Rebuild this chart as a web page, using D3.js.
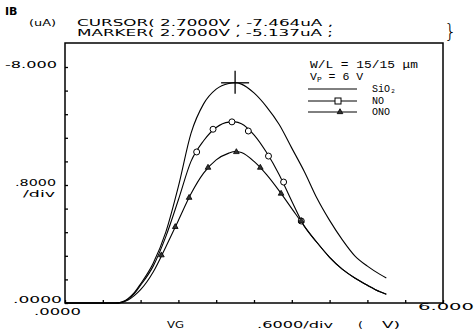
<!DOCTYPE html>
<html lang="en">
<head>
    <meta charset="UTF-8">
    <title>IB vs VG</title>
    <script src="https://d3js.org/d3.v7.min.js"></script>
    <style>
        body {
            margin: 0;
            background: #fff;
        }
        .plot-text {
            font-family: 'DejaVu Sans', sans-serif;
            font-size: 9.5px;
            fill: #000;
        }
        .legend-text {
            font-family: 'Liberation Mono', monospace;
            font-size: 11.5px;
            fill: #000;
        }
        .legend-name {
            font-family: 'Liberation Mono', monospace;
            font-size: 10px;
            fill: #000;
        }
        .curve {
            fill: none;
            stroke: #000;
            stroke-width: 1.1;
        }
        .frame {
            fill: none;
            stroke: #000;
            stroke-width: 1.5;
        }
        .axis path {
            display: none;
        }
        .axis line {
            stroke: #000;
            stroke-width: 1.3;
        }
    </style>
</head>
<body>
    <svg width="476" height="333"></svg>
    <script>
        // Data (IB in uA, VG in V)
        const vg = [0, 0.4, 0.8, 0.9, 1.0, 1.1, 1.2, 1.4, 1.6, 1.8, 2.0, 2.2, 2.4, 2.6, 2.7, 2.8, 3.0, 3.2, 3.4, 3.6, 3.8, 4.0, 4.2, 4.4, 4.6, 4.8, 5.0, 5.1];
        const ibSiO2 = [0, 0, 0, -0.03, -0.15, -0.35, -0.65, -1.35, -2.4, -3.95, -5.75, -6.75, -7.25, -7.44, -7.464, -7.42, -7.12, -6.65, -6.05, -5.25, -4.45, -3.55, -2.8, -2.15, -1.6, -1.25, -0.97, -0.85];
        const ibNO = [0, 0, 0, -0.02, -0.13, -0.32, -0.6, -1.25, -2.25, -3.5, -4.8, -5.5, -5.95, -6.13, -6.14, -6.08, -5.7, -5.1, -4.35, -3.45, -2.6, -2.05, -1.55, -1.15, -0.85, -0.6, -0.38, -0.3];
        const ibONO = [0, 0, 0, -0.02, -0.1, -0.25, -0.45, -1.05, -1.9, -2.8, -3.7, -4.4, -4.85, -5.08, -5.137, -5.1, -4.8, -4.35, -3.8, -3.2, -2.6, -2.05, -1.55, -1.15, -0.85, -0.6, -0.38, -0.3];

        // plotted symbol positions
        const markNO = [[2.09, -5.12], [2.35, -5.89], [2.65, -6.14], [2.91, -5.83], [3.23, -4.98], [3.47, -4.10], [3.75, -2.78]];
        const markONO = [[1.53, -1.62], [1.75, -2.58], [1.97, -3.57], [2.27, -4.59], [2.72, -5.12], [3.10, -4.59], [3.43, -3.71], [3.75, -2.78]];

        const cursor = [2.7, -7.464];

        const xTicks = d3.range(0, 6.01, 0.6);
        const yTicks = d3.range(0, -8.01, -0.8);

        const legendNames = ["SiO\u2082", "NO", "ONO"];

        const svg = d3.select("svg");

        const x = d3.scaleLinear().domain([0, 6]).range([65, 443]);
        const y = d3.scaleLinear().domain([0, -8]).range([303, 67]);

        const frameTop = 43;

        // frame
        svg.append("rect")
            .attr("class", "frame")
            .attr("x", x(0))
            .attr("y", frameTop)
            .attr("width", x(6) - x(0))
            .attr("height", y(0) - frameTop);

        // inward ticks
        svg.append("g")
            .attr("class", "axis")
            .attr("transform", `translate(${x(0)},0)`)
            .call(d3.axisLeft(y).tickValues(yTicks).tickSize(-3).tickFormat(""));

        svg.append("g")
            .attr("class", "axis")
            .attr("transform", `translate(0,${y(0)})`)
            .call(d3.axisBottom(x).tickValues(xTicks).tickSize(-3).tickFormat(""));

        // curves
        const line = d3.line()
            .x(d => x(d[0]))
            .y(d => y(d[1]))
            .curve(d3.curveMonotoneX);

        [ibSiO2, ibNO, ibONO].forEach(series => {
            svg.append("path")
                .attr("class", "curve")
                .attr("d", line(vg.map((v, i) => [v, series[i]])));
        });

        // NO symbols
        svg.selectAll(".mno")
            .data(markNO)
            .enter().append("circle")
            .attr("class", "mno")
            .attr("cx", d => x(d[0]))
            .attr("cy", d => y(d[1]))
            .attr("r", 3)
            .attr("fill", "#fff")
            .attr("stroke", "#000")
            .attr("stroke-width", 1);

        // ONO symbols
        const tri = d3.symbol().type(d3.symbolTriangle).size(14);
        svg.selectAll(".mono")
            .data(markONO)
            .enter().append("path")
            .attr("class", "mono")
            .attr("d", tri)
            .attr("transform", d => `translate(${x(d[0])},${y(d[1])})`)
            .attr("fill", "#333")
            .attr("stroke", "#000")
            .attr("stroke-width", 0.8);

        // cursor cross
        svg.append("line")
            .attr("x1", x(cursor[0])).attr("x2", x(cursor[0]))
            .attr("y1", y(cursor[1]) - 12).attr("y2", y(cursor[1]) + 11)
            .attr("stroke", "#000").attr("stroke-width", 1.3);
        svg.append("line")
            .attr("x1", x(cursor[0]) - 14).attr("x2", x(cursor[0]) + 14)
            .attr("y1", y(cursor[1])).attr("y2", y(cursor[1]))
            .attr("stroke", "#000").attr("stroke-width", 1.3);

        // helper for the wide plotter lettering
        function label(txt, px, py, len) {
            return svg.append("text").attr("class", "plot-text")
                .attr("x", px).attr("y", py)
                .attr("textLength", len)
                .attr("lengthAdjust", "spacingAndGlyphs")
                .text(txt);
        }

        // header texts
        svg.append("text").attr("class", "plot-text")
            .attr("x", 5).attr("y", 15)
            .style("font-weight", "bold").style("font-size", "11px")
            .text("IB");
        label("(uA)", 29, 26, 27);
        label("CURSOR( 2.7000V , -7.464uA ,", 77, 26, 256);
        label("MARKER( 2.7000V , -5.137uA ;", 77, 36, 256);
        svg.append("text").attr("class", "plot-text")
            .attr("x", 444).attr("y", 38)
            .style("font-size", "20px").style("font-weight", "200")
            .text("}");

        // y labels
        label("-8.000", 5, y(-8) + 1, 52);
        label(".8000", 15, y(-0.8 * 5) + 1, 41);
        label("/div", 23, y(-0.8 * 5) + 12, 32);
        label(".0000", 13, y(0), 49);

        // x labels
        label(".0000", 34, 315, 47);
        label("6.000", 418, 310, 56);
        label("VG", 167, 328, 17);
        label(".6000/div", 257, 328, 76);
        label("(", 358, 328, 5);
        label("V)", 382, 328, 18);

        // legend
        svg.append("text").attr("class", "legend-text")
            .attr("x", 310).attr("y", 68)
            .attr("textLength", 108).attr("lengthAdjust", "spacingAndGlyphs")
            .text("W/L = 15/15 \u03bcm");
        const vp = svg.append("text").attr("class", "legend-text")
            .attr("x", 310).attr("y", 80);
        vp.append("tspan").text("V");
        vp.append("tspan").attr("dy", 2).style("font-size", "8px").text("P");
        vp.append("tspan").attr("dy", -2).text(" = 6 V");

        const legendY = [89, 101, 112];
        legendNames.forEach((name, i) => {
            svg.append("line")
                .attr("x1", 308).attr("x2", 357)
                .attr("y1", legendY[i]).attr("y2", legendY[i])
                .attr("stroke", "#000").attr("stroke-width", 1);
            svg.append("text").attr("class", "legend-name")
                .attr("x", 372).attr("y", legendY[i] + 3)
                .text(name);
        });
        svg.append("rect")
            .attr("x", 335).attr("y", legendY[1] - 3)
            .attr("width", 6).attr("height", 6)
            .attr("fill", "#fff").attr("stroke", "#000");
        svg.append("path")
            .attr("d", tri)
            .attr("transform", `translate(340,${legendY[2]})`)
            .attr("fill", "#333").attr("stroke", "#000").attr("stroke-width", 0.8);
    </script>
</body>
</html>
